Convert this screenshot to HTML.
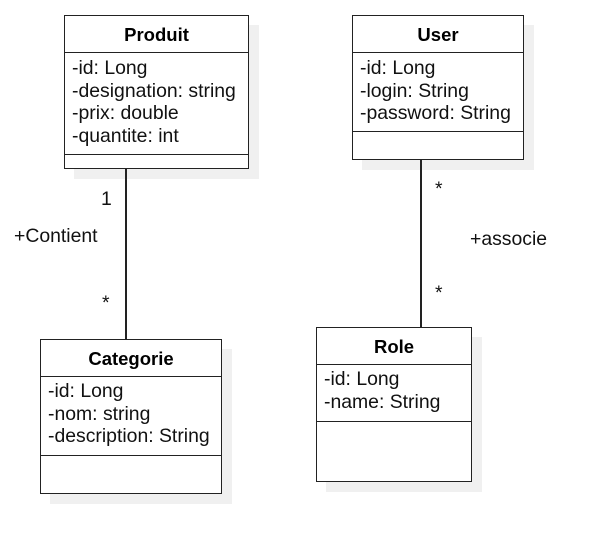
<!DOCTYPE html>
<html><head><style>
body{margin:0;width:606px;height:553px;background:#fff;font-family:"Liberation Sans",sans-serif;position:relative;overflow:hidden}
.b{position:absolute;border:1.5px solid #222;background:#fff;box-sizing:border-box;box-shadow:10px 10px 0 #f0f0f0}
.h{position:absolute;left:0;right:0;text-align:center;font-weight:bold;font-size:18.5px}
.l{position:absolute;left:0;right:0;border-top:1.5px solid #222}
.a{position:absolute;left:7px;font-size:19.4px;line-height:22.5px;color:#111;white-space:nowrap}
.t{position:absolute;font-size:19.4px;color:#111}
.v{position:absolute;width:1.5px;background:#222;z-index:2}
</style></head><body>

<div class="b" style="left:64px;top:15px;width:185px;height:154px">
<div class="h" style="top:8px">Produit</div><div class="l" style="top:36px"></div>
<div class="a" style="top:41px">-id: Long<br>-designation: string<br>-prix: double<br>-quantite: int</div>
<div class="l" style="top:138px"></div></div>

<div class="b" style="left:352px;top:15px;width:172px;height:145px">
<div class="h" style="top:8px">User</div><div class="l" style="top:36px"></div>
<div class="a" style="top:41px">-id: Long<br>-login: String<br>-password: String</div>
<div class="l" style="top:115px"></div></div>

<div class="b" style="left:40px;top:339px;width:182px;height:155px">
<div class="h" style="top:8px">Categorie</div><div class="l" style="top:36px"></div>
<div class="a" style="top:40px">-id: Long<br>-nom: string<br>-description: String</div>
<div class="l" style="top:115px"></div></div>

<div class="b" style="left:316px;top:327px;width:156px;height:155px">
<div class="h" style="top:8px">Role</div><div class="l" style="top:36px"></div>
<div class="a" style="top:40px">-id: Long<br>-name: String</div>
<div class="l" style="top:93px"></div></div>

<div class="v" style="left:125px;top:168px;height:171px"></div>
<div class="v" style="left:420px;top:159px;height:168px"></div>

<div class="t" style="left:101px;top:188px">1</div>
<div class="t" style="left:14px;top:225px">+Contient</div>
<div class="t" style="left:102px;top:292px">*</div>
<div class="t" style="left:435px;top:178px">*</div>
<div class="t" style="left:470px;top:228px">+associe</div>
<div class="t" style="left:435px;top:282px">*</div>
</body></html>
